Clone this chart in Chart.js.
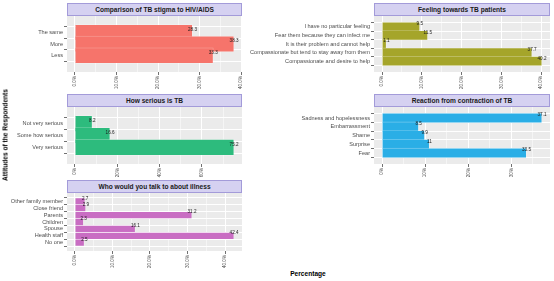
<!DOCTYPE html>
<html><head><meta charset="utf-8">
<script src="https://cdn.jsdelivr.net/npm/chart.js@4.4.1/dist/chart.umd.min.js"></script>
<style>
html,body{margin:0;padding:0;background:#fff;width:554px;height:281px;overflow:hidden;font-family:"Liberation Sans",Arial,sans-serif;}
canvas{position:absolute;}
.strip{position:absolute;box-sizing:border-box;background:#d5d1f1;border:1px solid #a39bd9;font-weight:bold;font-size:6.6px;color:#1a1a1a;display:flex;align-items:center;justify-content:center;white-space:nowrap;}
.atitle{position:absolute;font-weight:bold;font-size:6.6px;color:#000;white-space:nowrap;}
</style></head><body>
<script>
// ---- data ----
const stigmaTitle = "Comparison of TB stigma to HIV/AIDS";
const stigmaCats = ["The same", "More", "Less"];
const stigmaVals = [28.3, 38.3, 33.3];
const stigmaTickVals = [0, 10, 20, 30, 40];
const stigmaTickLabels = ["0.0%", "10.0%", "20.0%", "30.0%", "40.0%"];

const feelingTitle = "Feeling towards TB patients";
const feelingCats = ["I have no particular feeling", "Fear them because they can infect me", "It is their problem and cannot help", "Compassionate but tend to stay away from them", "Compassionate and desire to help"];
const feelingVals = [9.5, 11.5, 1.1, 37.7, 40.2];
const feelingTickVals = [0, 10, 20, 30, 40];
const feelingTickLabels = ["0.0%", "10.0%", "20.0%", "30.0%", "40.0%"];

const seriousTitle = "How serious is TB";
const seriousCats = ["Not very serious", "Some how serious", "Very serious"];
const seriousVals = [8.2, 16.6, 75.2];
const seriousTickVals = [0, 20, 40, 60];
const seriousTickLabels = ["0%", "20%", "40%", "60%"];

const reactionTitle = "Reaction from contraction of TB";
const reactionCats = ["Sadness and hopelessness", "Embarrassment", "Shame", "Surprise", "Fear"];
const reactionVals = [37.1, 8.5, 9.9, 11, 33.5];
const reactionTickVals = [0, 10, 20, 30];
const reactionTickLabels = ["0%", "10%", "20%", "30%"];

const talkTitle = "Who would you talk to about illness";
const talkCats = ["Other family member", "Close friend", "Parents", "Children", "Spouse", "Health staff", "No one"];
const talkVals = [2.7, 2.9, 31.2, 2.3, 16.1, 42.4, 2.5];
const talkTickVals = [0, 10, 20, 30, 40];
const talkTickLabels = ["0.0%", "10.0%", "20.0%", "30.0%", "40.0%"];

const yTitle = "Attitudes of the Respondents";
const xTitle = "Percentage";

// ---- layout / style ----
const FONT = '"Liberation Sans", Arial, sans-serif';
const PANEL_BG = '#ebebeb';
const PAD_T = 5, PAD_R = 6, XH = 20;

const bgPlugin = {
  id: 'panelBg',
  beforeDraw(chart) {
    const a = chart.chartArea, ctx = chart.ctx;
    ctx.save(); ctx.fillStyle = PANEL_BG;
    ctx.fillRect(a.left, a.top, a.right - a.left, a.bottom - a.top);
    ctx.restore();
  }
};
const labelPlugin = {
  id: 'valueLabels',
  afterDatasetsDraw(chart) {
    const ctx = chart.ctx, meta = chart.getDatasetMeta(0), ds = chart.data.datasets[0];
    ctx.save();
    ctx.font = '4.6px ' + FONT; ctx.fillStyle = '#1a1a1a';
    ctx.textAlign = 'center'; ctx.textBaseline = 'alphabetic';
    meta.data.forEach((el, i) => { ctx.fillText(String(ds.data[i].x), el.x, el.y - 1.7); });
    ctx.restore();
  }
};

function addDiv(cls, text, style) {
  const d = document.createElement('div'); d.className = cls; d.textContent = text;
  Object.assign(d.style, style); document.body.appendChild(d); return d;
}

function panel(title, cats, vals, tickVals, tickLabels, color, box) {
  const n = cats.length;
  const maxV = Math.max(...vals), e = maxV * 0.05;
  const step = tickVals[1] - tickVals[0];
  const ticks = [];
  tickVals.forEach((v, i) => {
    ticks.push({ value: v, major: true, label: tickLabels[i] });
    if (v + step / 2 <= maxV + e) ticks.push({ value: v + step / 2, major: false, label: '' });
  });
  const isMajor = v => tickVals.indexOf(v) >= 0;
  const plotW = box.r - box.l, plotH = box.b - box.t;
  const barH = 0.9 * plotH / (n + 0.2);
  const cv = document.createElement('canvas');
  const W = box.yw + plotW + PAD_R, H = PAD_T + plotH + XH;
  cv.width = W; cv.height = H;
  cv.style.left = (box.l - box.yw) + 'px'; cv.style.top = (box.t - PAD_T) + 'px';
  cv.style.width = W + 'px'; cv.style.height = H + 'px';
  document.body.appendChild(cv);
  addDiv('strip', title, { left: box.l + 'px', top: box.st + 'px', width: plotW + 'px', height: (box.t - box.st) + 'px' });

  new Chart(cv, {
    type: 'bar',
    data: {
      datasets: [{
        data: vals.map((v, i) => ({ x: v, y: i + 1 })),
        backgroundColor: color,
        borderColor: 'rgba(255,255,255,0.35)',
        borderWidth: 0.8,
        barThickness: barH
      }]
    },
    options: {
      indexAxis: 'y',
      responsive: false,
      animation: false,
      devicePixelRatio: 1,
      layout: { padding: { top: PAD_T, right: PAD_R, left: 0, bottom: 0 } },
      plugins: { legend: { display: false }, tooltip: { enabled: false } },
      scales: {
        x: {
          type: 'linear', min: -e, max: maxV + e, bounds: 'data',
          afterBuildTicks: s => { s.ticks = ticks.map(t => ({ value: t.value })); },
          afterFit: s => { s.height = XH; },
          border: { display: false },
          grid: {
            color: '#ffffff',
            lineWidth: c => (c.tick && isMajor(c.tick.value)) ? 1 : 0.5,
            drawTicks: true, tickLength: 3,
            tickColor: c => (c.tick && isMajor(c.tick.value)) ? '#333333' : 'rgba(0,0,0,0)',
            tickWidth: 0.7
          },
          ticks: {
            autoSkip: false, minRotation: 90, maxRotation: 90, padding: 1,
            color: '#4d4d4d', font: { family: FONT, size: 4.6 },
            callback: v => { const t = ticks.find(k => Math.abs(k.value - v) < 1e-9); return t ? t.label : ''; }
          }
        },
        y: {
          type: 'linear', reverse: true, min: 0.4, max: n + 0.6, bounds: 'data',
          afterBuildTicks: s => { s.ticks = cats.map((c, i) => ({ value: i + 1 })); },
          afterFit: s => { s.width = box.yw; },
          border: { display: false },
          grid: { color: '#ffffff', lineWidth: 1, drawTicks: true, tickLength: 3, tickColor: '#333333', tickWidth: 0.7 },
          ticks: {
            autoSkip: false, padding: 1, color: '#4d4d4d', font: { family: FONT, size: 5.6 },
            callback: v => cats[Math.round(v) - 1] || ''
          }
        }
      }
    },
    plugins: [bgPlugin, labelPlugin]
  });
}

const L = { l: 67, r: 242, yw: 67 }, R = { l: 374, r: 550, yw: 124 };
const row1 = { st: 3, t: 16, b: 72 }, row2 = { st: 94, t: 107, b: 164 }, row3 = { st: 180, t: 193, b: 251 };

panel(stigmaTitle, stigmaCats, stigmaVals, stigmaTickVals, stigmaTickLabels, '#F6746B', Object.assign({}, L, row1));
panel(feelingTitle, feelingCats, feelingVals, feelingTickVals, feelingTickLabels, '#A5A52A', Object.assign({}, R, row1));
panel(seriousTitle, seriousCats, seriousVals, seriousTickVals, seriousTickLabels, '#2DBB7D', Object.assign({}, L, row2));
panel(reactionTitle, reactionCats, reactionVals, reactionTickVals, reactionTickLabels, '#2AAEE6', Object.assign({}, R, row2));
panel(talkTitle, talkCats, talkVals, talkTickVals, talkTickLabels, '#C96DC3', Object.assign({}, L, row3));

addDiv('atitle', yTitle, { left: '5px', top: '135px', transform: 'translate(-50%,-50%) rotate(-90deg)' });
addDiv('atitle', xTitle, { left: '308px', top: '273px', transform: 'translate(-50%,-50%)' });
</script>
</body></html>
